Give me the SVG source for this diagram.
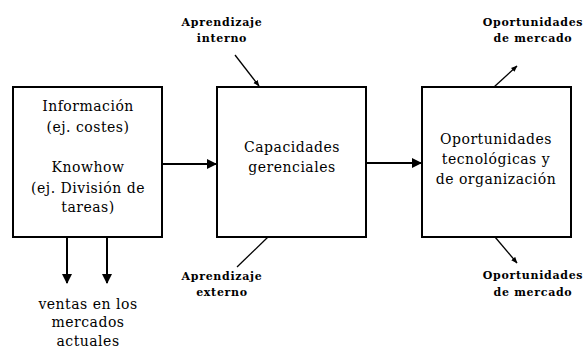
<svg xmlns="http://www.w3.org/2000/svg" width="586" height="349" viewBox="0 0 586 349">
<style>
.box{fill:#fff;stroke:#000;stroke-width:2}
.t{font-family:'DejaVu Serif','Liberation Serif',serif;font-size:14px;letter-spacing:0.5px;text-anchor:middle;fill:#000}
.s{font-family:'DejaVu Serif','Liberation Serif',serif;font-size:11px;font-weight:bold;letter-spacing:0.7px;text-anchor:middle;fill:#000}
.c{stroke:#000;stroke-width:2;fill:none}
.d{stroke:#000;stroke-width:1.3;fill:none}
</style>
<defs>
<marker id="ah" viewBox="0 0 10 10" refX="9" refY="5" markerWidth="5" markerHeight="5" orient="auto" markerUnits="strokeWidth">
<path d="M0,0 L10,5 L0,10 z" fill="#000"/>
</marker>
<marker id="sh" viewBox="0 0 10 10" refX="9" refY="5" markerWidth="5" markerHeight="5" orient="auto" markerUnits="strokeWidth">
<path d="M0,1 L10,5 L0,9 z" fill="#000"/>
</marker>
</defs>
<g id="connectors">
<line class="c" x1="162" y1="164" x2="216" y2="164" marker-end="url(#ah)"/>
<line class="c" x1="366" y1="163" x2="421" y2="163" marker-end="url(#ah)"/>
<line class="c" x1="67" y1="237" x2="67" y2="283" marker-end="url(#ah)"/>
<line class="c" x1="107" y1="237" x2="107" y2="283" marker-end="url(#ah)"/>
<line class="d" x1="235" y1="55" x2="259" y2="86" marker-end="url(#sh)"/>
<line class="d" x1="268" y1="237" x2="237" y2="267"/>
<line class="d" x1="494" y1="87" x2="517" y2="66" marker-end="url(#sh)"/>
<line class="d" x1="495" y1="237" x2="517" y2="263" marker-end="url(#sh)"/>
</g>
<g id="node-informacion">
<rect class="box" x="13" y="87" width="149" height="150"/>
<text class="t" x="88" y="111">Información</text>
<text class="t" x="88" y="132">(ej. costes)</text>
<text class="t" x="88" y="172">Knowhow</text>
<text class="t" x="88" y="193">(ej. División de</text>
<text class="t" x="88" y="212">tareas)</text>
</g>
<g id="node-capacidades">
<rect class="box" x="217" y="87" width="149" height="150"/>
<text class="t" x="292" y="152">Capacidades</text>
<text class="t" x="292" y="172">gerenciales</text>
</g>
<g id="node-oportunidades">
<rect class="box" x="422" y="87" width="149" height="150"/>
<text class="t" x="496" y="144">Oportunidades</text>
<text class="t" x="496" y="164">tecnológicas y</text>
<text class="t" x="496" y="184">de organización</text>
</g>
<g id="label-aprendizaje-interno">
<text class="s" x="222" y="26">Aprendizaje</text>
<text class="s" x="222" y="42">interno</text>
</g>
<g id="label-aprendizaje-externo">
<text class="s" x="222" y="280">Aprendizaje</text>
<text class="s" x="222" y="296">externo</text>
</g>
<g id="label-mercado-top">
<text class="s" x="533" y="26">Oportunidades</text>
<text class="s" x="533" y="42">de mercado</text>
</g>
<g id="label-mercado-bottom">
<text class="s" x="533" y="279">Oportunidades</text>
<text class="s" x="533" y="296">de mercado</text>
</g>
<g id="label-ventas">
<text class="t" x="88" y="309">ventas en los</text>
<text class="t" x="88" y="327">mercados</text>
<text class="t" x="88" y="346">actuales</text>
</g>
</svg>
